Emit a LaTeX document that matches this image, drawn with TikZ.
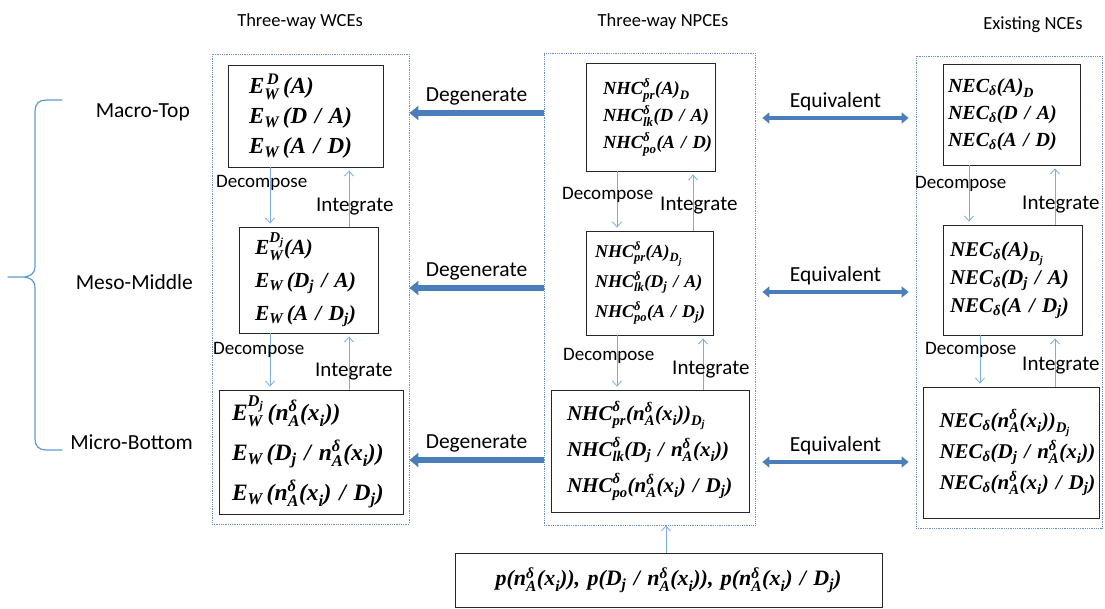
\documentclass[tikz,border=0pt]{standalone}
\usepackage{amsmath}
\usepackage{fontspec}
\setmainfont{Carlito}
\newfontfamily\tnr{Liberation Serif}
\usetikzlibrary{arrows.meta}
\definecolor{arrowblue}{HTML}{4A7EBB}
\definecolor{flowblue}{HTML}{7DAEDD}
\definecolor{frameblue}{HTML}{6A8FC0}
\definecolor{bracecol}{HTML}{5B9BD5}
\newcommand{\fs}[2]{\fontsize{#1}{#2}\selectfont}
\newcommand{\mb}[1]{\text{\tnr\bfseries\itshape #1}}
\newcommand{\dl}{\mb{δ}}
\newcommand{\Dj}{\mb{D}_{\mb{j}}}
\newcommand{\nx}{\mb{n}^{\dl}_{\mb{A}}\mb{(x}_{\mb{i}}\mb{)}}

\begin{document}
\begin{tikzpicture}[x=1pt,y=-1pt,
		dotframe/.style={draw=frameblue,densely dotted,line width=0.8pt,inner sep=0pt},
		box/.style={draw=black!85,line width=0.9pt,align=left,inner ysep=0pt},
		hdr/.style={font=\fs{18.5}{22}},
		lvl/.style={font=\fs{21.5}{26},anchor=east,inner sep=0pt},
		dec/.style={font=\fs{19}{23},anchor=west,inner sep=0pt},
		integ/.style={font=\fs{21}{25},anchor=west,inner sep=0pt},
		flow/.style={draw=flowblue,line width=0.8pt,-{Straight Barb[length=5pt,width=9pt]},shorten >=3pt},
		degen/.style={draw=arrowblue,line width=6pt,-{Triangle[length=9pt,width=14pt]}},
		equiv/.style={draw=arrowblue,line width=4.5pt,{Triangle[length=7pt,width=11pt]}-{Triangle[length=7pt,width=11pt]},shorten <=7pt,shorten >=7pt},
		lab/.style={font=\fs{21.5}{25},above=1pt}
		]
		\useasboundingbox (0,0) rectangle (1105,609);

		% column headers
		\node[hdr] (hw) at (300,22) {Three-way WCEs};
		\node[hdr] (hn) at (663,22) {Three-way NPCEs};
		\node[hdr] (he) at (1033,25) {Existing NCEs};

		% levels and brace
		\node[lvl] (ltop) at (190,112) {Macro-Top};
		\node[lvl] (lmid) at (193,282) {Meso-Middle};
		\node[lvl] (lbot) at (193,442) {Micro-Bottom};
		\draw[bracecol,line width=1.2pt,line cap=round]
			(62,100) -- (46,100) .. controls (39,100) and (35,104) .. (35,111) -- (35,266)
			.. controls (35,274) and (30,277) .. (22,277) -- (8,277)
			(22,277) .. controls (30,277) and (35,280) .. (35,288) -- (35,439)
			.. controls (35,446) and (39,450) .. (46,450) -- (62,450);

		% dotted frames
		\node[dotframe,minimum width=197pt,minimum height=470pt] (wframe) at (310.5,289) {};
		\node[dotframe,minimum width=211pt,minimum height=472pt] (nframe) at (649.5,289) {};
		\node[dotframe,minimum width=186pt,minimum height=472pt] (eframe) at (1009,292) {};

		% three-way WCEs
		\node[box,text width=113pt,inner xsep=21pt,minimum height=102pt,font=\fs{23}{30}] (wtop) at (305.5,116)
			{$\mb{E}^{\,\mb{D}}_{\mb{W}}\mb{\,(A)}$\\
			 $\mb{E}_{\mb{W}}\mb{\,(D / A)}$\\
			 $\mb{E}_{\mb{W}}\mb{\,(A / D)}$};
		\node[box,text width=107pt,inner xsep=16pt,minimum height=106pt,font=\fs{21.5}{33}] (wmid) at (308.5,280)
			{$\mb{E}^{\Dj}_{\mb{W}}\mb{(A)}$\\
			 $\mb{E}_{\mb{W}}\mb{\,(}\Dj\mb{ / A)}$\\
			 $\mb{E}_{\mb{W}}\mb{\,(A / }\Dj\mb{)}$};
		\node[box,text width=158pt,inner xsep=13pt,minimum height=124pt,font=\fs{23.5}{40}] (wbot) at (311,452)
			{$\mb{E}^{\Dj}_{\mb{W}}\mb{\,(}\nx\mb{)}$\\
			 $\mb{E}_{\mb{W}}\mb{\,(}\Dj\mb{ / }\nx\mb{)}$\\
			 $\mb{E}_{\mb{W}}\mb{\,(}\nx\mb{ / }\Dj\mb{)}$};

		% three-way NPCEs
		\node[box,text width=95pt,inner xsep=17pt,minimum height=108pt,font=\fs{18.5}{27}] (ntop) at (650.5,117)
			{$\mb{NHC}^{\dl}_{\mb{pr}}\mb{(A)}_{\mb{D}}$\\
			 $\mb{NHC}^{\dl}_{\mb{lk}}\mb{(D / A)}$\\
			 $\mb{NHC}^{\dl}_{\mb{po}}\mb{(A / D)}$};
		\node[box,text width=109pt,inner xsep=9pt,minimum height=104pt,font=\fs{18}{30}] (nmid) at (649.5,283)
			{$\mb{NHC}^{\dl}_{\mb{pr}}\mb{(A)}_{\Dj}$\\
			 $\mb{NHC}^{\dl}_{\mb{lk}}\mb{(}\Dj\mb{ / A)}$\\
			 $\mb{NHC}^{\dl}_{\mb{po}}\mb{(A / }\Dj\mb{)}$};
		\node[box,text width=166pt,inner xsep=16pt,minimum height=122pt,font=\fs{21}{36}] (nbot) at (650,451)
			{$\mb{NHC}^{\dl}_{\mb{pr}}\mb{(}\nx\mb{)}_{\Dj}$\\
			 $\mb{NHC}^{\dl}_{\mb{lk}}\mb{(}\Dj\mb{ / }\nx\mb{)}$\\
			 $\mb{NHC}^{\dl}_{\mb{po}}\mb{(}\nx\mb{ / }\Dj\mb{)}$};

		% existing NCEs
		\node[box,text width=127pt,inner xsep=5pt,minimum height=101pt,font=\fs{20}{27}] (etop) at (1011.5,114.5)
			{$\mb{NEC}_{\dl}\mb{(A)}_{\mb{D}}$\\
			 $\mb{NEC}_{\dl}\mb{(D / A)}$\\
			 $\mb{NEC}_{\dl}\mb{(A / D)}$};
		\node[box,text width=125pt,inner xsep=7pt,minimum height=110pt,font=\fs{21}{28}] (emid) at (1012.5,280)
			{$\mb{NEC}_{\dl}\mb{(A)}_{\Dj}$\\
			 $\mb{NEC}_{\dl}\mb{(}\Dj\mb{ / A)}$\\
			 $\mb{NEC}_{\dl}\mb{(A / }\Dj\mb{)}$};
		\node[box,text width=144pt,inner xsep=16pt,minimum height=131pt,font=\fs{21}{31}] (ebot) at (1011.5,452.5)
			{$\mb{NEC}_{\dl}\mb{(}\nx\mb{)}_{\Dj}$\\
			 $\mb{NEC}_{\dl}\mb{(}\Dj\mb{ / }\nx\mb{)}$\\
			 $\mb{NEC}_{\dl}\mb{(}\nx\mb{ / }\Dj\mb{)}$};

		% probabilities
		\node[box,align=center,text width=401pt,inner xsep=13pt,minimum height=54pt,font=\fs{22}{26}] (prob) at (668.5,580)
			{$\mb{p(}\nx\mb{), p(}\Dj\mb{ / }\nx\mb{), p(}\nx\mb{ / }\Dj\mb{)}$};

		% decompose / integrate
		\draw[flow] (wtop.south -| 270,0) -- (wmid.north -| 270,0);
		\draw[flow] (wmid.north -| 349,0) -- (wtop.south -| 349,0);
		\draw[flow] (wmid.south -| 270,0) -- (wbot.north -| 270,0);
		\draw[flow] (wbot.north -| 349,0) -- (wmid.south -| 349,0);
		\draw[flow] (ntop.south -| 617,0) -- (nmid.north -| 617,0);
		\draw[flow] (nmid.north -| 693,0) -- (ntop.south -| 693,0);
		\draw[flow] (nmid.south -| 617,0) -- (nbot.north -| 617,0);
		\draw[flow] (nbot.north -| 703,0) -- (nmid.south -| 703,0);
		\draw[flow] (etop.south -| 969,0) -- (emid.north -| 969,0);
		\draw[flow] (emid.north -| 1055,0) -- (etop.south -| 1055,0);
		\draw[flow] (emid.south -| 980,0) -- (ebot.north -| 980,0);
		\draw[flow] (ebot.north -| 1055,0) -- (emid.south -| 1055,0);
		\draw[flow,shorten >=0pt] (prob.north -| 666,0) -- (nframe.south -| 666,0);

		\node[dec] (dw1) at (216,183) {Decompose};
		\node[integ] (iw1) at (316,207) {Integrate};
		\node[dec] (dw2) at (213,350) {Decompose};
		\node[integ] (iw2) at (315,372) {Integrate};
		\node[dec] (dn1) at (562,195) {Decompose};
		\node[integ] (in1) at (660,206) {Integrate};
		\node[dec] (dn2) at (563,356) {Decompose};
		\node[integ] (in2) at (672,370) {Integrate};
		\node[dec] (de1) at (915,184) {Decompose};
		\node[integ] (ie1) at (1022,205) {Integrate};
		\node[dec] (de2) at (925,350) {Decompose};
		\node[integ] (ie2) at (1022,366) {Integrate};

		% degenerate / equivalent
		\draw[degen] (nframe.west |- 0,113) -- (wframe.east |- 0,113) node[lab,midway] (dg1) {Degenerate};
		\draw[degen] (nframe.west |- 0,288) -- (wframe.east |- 0,288) node[lab,midway] (dg2) {Degenerate};
		\draw[degen] (nframe.west |- 0,460) -- (wframe.east |- 0,460) node[lab,midway] (dg3) {Degenerate};
		\draw[equiv] (nframe.east |- 0,118) -- (eframe.west |- 0,118) node[lab,midway] (eq1) {Equivalent};
		\draw[equiv] (nframe.east |- 0,292) -- (eframe.west |- 0,292) node[lab,midway] (eq2) {Equivalent};
		\draw[equiv] (nframe.east |- 0,462) -- (eframe.west |- 0,462) node[lab,midway] (eq3) {Equivalent};
	\end{tikzpicture}
\end{document}
